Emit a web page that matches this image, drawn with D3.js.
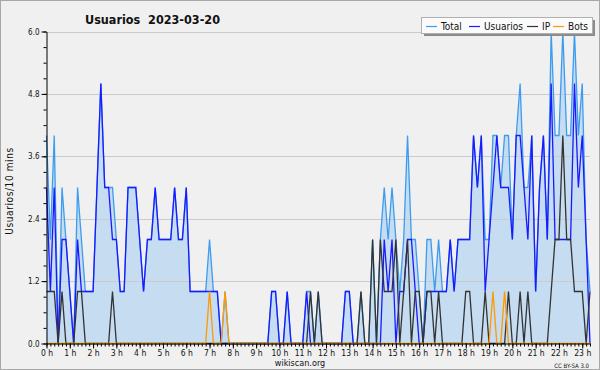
<!DOCTYPE html>
<html>
<head>
<meta charset="utf-8">
<script src="https://cdn.jsdelivr.net/npm/d3@7"></script>
<style>
  body { margin: 0; background: #fff; }
  svg { display: block; }
  text { font-family: "DejaVu Sans Condensed", "DejaVu Sans", sans-serif; fill: #111; }
</style>
</head>
<body>
<div id="chart"></div>
<script>
// one value per 10 minutes, 00:00 .. 23:20
const total = [
  4,2,4,0,3,2,1,0,3,2, 1,1,1,3,5,3,3,3,2,1, 1,3,3,3,2,1,2,2,3,2,
  2,2,2,3,2,2,3,1,1,1, 1,1,2,1,1,0,1,0,0,0, 0,0,0,0,0,0,0,0,1,1,
  0,0,1,0,0,0,0,1,1,0, 1,0,0,0,0,0,0,1,1,0, 0,1,0,0,2,0,2,3,2,3,
  2,1,2,4,2,2,1,0,2,2, 1,2,1,1,2,1,2,2,2,2, 4,3,4,2,2,4,4,3,4,4,
  2,4,5,3,3,4,1,3,4,2, 6,4,4,6,4,4,6,4,5,2, 1
];
const usuarios = [
  3,1,3,0,2,2,1,0,2,1, 1,1,1,3,5,3,3,2,2,1, 1,3,3,3,2,1,2,2,3,2,
  2,2,2,3,2,2,3,1,1,1, 1,1,1,1,1,0,0,0,0,0, 0,0,0,0,0,0,0,0,1,1,
  0,0,1,0,0,0,0,1,0,0, 0,0,0,0,0,0,0,1,1,0, 0,0,0,0,0,0,0,2,1,2,
  0,1,1,2,2,1,0,0,1,1, 1,1,1,1,2,1,2,2,2,2, 4,3,4,1,2,3,4,3,3,3,
  2,4,4,3,2,4,1,3,4,2, 5,2,2,2,2,2,5,3,4,2, 0
];
const ip = [
  1,1,1,0,1,0,0,0,1,1, 0,0,0,0,0,0,0,1,0,0, 0,0,0,0,0,0,0,0,0,0,
  0,0,0,0,0,0,0,0,0,0, 0,0,0,0,0,0,0,0,0,0, 0,0,0,0,0,0,0,0,0,0,
  0,0,0,0,0,0,0,0,1,0, 1,0,0,0,0,0,0,0,0,0, 0,1,0,0,2,0,2,1,1,1,
  2,0,1,2,0,1,1,0,1,1, 0,1,0,0,0,0,0,0,1,1, 0,0,0,1,0,0,0,0,0,1,
  0,0,1,0,1,0,0,0,0,0, 1,2,2,4,2,2,1,1,1,0, 1
];
const bots = [
  0,0,0,0,0,0,0,0,0,0, 0,0,0,0,0,0,0,0,0,0, 0,0,0,0,0,0,0,0,0,0,
  0,0,0,0,0,0,0,0,0,0, 0,0,1,0,0,0,1,0,0,0, 0,0,0,0,0,0,0,0,0,0,
  0,0,0,0,0,0,0,0,0,0, 0,0,0,0,0,0,0,0,0,0, 0,0,0,0,0,0,0,0,0,0,
  0,0,0,0,0,0,0,0,0,0, 0,0,0,0,0,0,0,0,0,0, 0,0,0,0,0,1,0,0,1,0,
  0,0,0,0,0,0,0,0,0,0, 0,0,0,0,0,0,0,0,0,0, 0
];
const hourLabels = ["0 h","1 h","2 h","3 h","4 h","5 h","6 h","7 h","8 h","9 h","10 h","11 h",
  "12 h","13 h","14 h","15 h","16 h","17 h","18 h","19 h","20 h","21 h","22 h","23 h"];
const yTicks = [0, 1.2, 2.4, 3.6, 4.8, 6.0];
const series = [
  { name: "Total", values: total, color: "#3d9cf0" },
  { name: "Usuarios", values: usuarios, color: "#1a1aff" },
  { name: "IP", values: ip, color: "#333333" },
  { name: "Bots", values: bots, color: "#ff9a00" }
];

const W = 600, H = 370;
const svg = d3.select("#chart").append("svg").attr("width", W).attr("height", H);

svg.append("rect").attr("x", 0.5).attr("y", 0.5).attr("width", W - 1).attr("height", H - 1)
  .attr("fill", "#f0f0f0").attr("stroke", "#a8a8a8");

const x = d3.scaleLinear().domain([0, total.length - 1]).range([46.5, 590]);
const y = d3.scaleLinear().domain([0, 6]).range([343.5, 31.5]);

// area under total
svg.append("path").datum(total)
  .attr("fill", "#c5dcf1")
  .attr("d", d3.area().x((d, i) => x(i)).y0(y(0)).y1(d => y(d)));

// grid
svg.append("g").selectAll("line").data(yTicks.slice(1)).join("line")
  .attr("x1", 46.5).attr("x2", 590)
  .attr("y1", d => Math.round(y(d)) + 0.5).attr("y2", d => Math.round(y(d)) + 0.5)
  .attr("stroke", "#cbcbcb");

// lines
const line = d3.line().x((d, i) => x(i)).y(d => y(d));
series.forEach(s => {
  svg.append("path").datum(s.values)
    .attr("fill", "none").attr("stroke", s.color).attr("stroke-width", 1.3)
    .attr("d", line);
});

// y axis
const yMinor = d3.range(0, 6.01, 0.3);
svg.append("g").attr("transform", "translate(46.5,0)")
  .call(d3.axisLeft(y).tickValues(yMinor).tickSize(3).tickSizeOuter(0).tickFormat(""))
  .call(g => g.selectAll("line,path").attr("stroke", "#000"));
svg.append("g").attr("transform", "translate(46.5,0)")
  .call(d3.axisLeft(y).tickValues(yTicks).tickSize(5).tickSizeOuter(0).tickFormat(d3.format(".1f")))
  .call(g => g.select(".domain").remove())
  .call(g => g.selectAll("line").attr("stroke", "#000"))
  .call(g => g.selectAll("text").attr("font-size", 8).attr("dx", 1).style("font-family", null));

// x axis
svg.append("g").attr("transform", "translate(0,343.5)")
  .call(d3.axisBottom(x).tickValues(d3.range(0, total.length)).tickSize(3).tickSizeOuter(0).tickFormat(""))
  .call(g => g.selectAll("line,path").attr("stroke", "#000"));
svg.append("g").attr("transform", "translate(0,343.5)")
  .call(d3.axisBottom(x).tickValues(hourLabels.map((h, k) => k * 6)).tickSize(5).tickSizeOuter(0)
    .tickFormat((d, k) => hourLabels[k]))
  .call(g => g.select(".domain").remove())
  .call(g => g.selectAll("line").attr("stroke", "#000"))
  .call(g => g.selectAll("text").attr("font-size", 8.5).attr("dy", "0.5em").style("font-family", null));

// titles
svg.append("text").attr("x", 85).attr("y", 24)
  .attr("font-size", 12.5).attr("font-weight", "bold").style("white-space", "pre")
  .text("Usuarios  2023-03-20");
svg.append("text").attr("transform", "translate(13,191) rotate(-90)")
  .attr("text-anchor", "middle").attr("font-size", 10).attr("letter-spacing", 0.6)
  .text("Usuarios/10 mins");
svg.append("text").attr("x", 300).attr("y", 366).attr("text-anchor", "middle")
  .attr("font-size", 9).text("wikiscan.org");
svg.append("text").attr("x", 589).attr("y", 368).attr("text-anchor", "end")
  .attr("font-size", 6).text("CC BY-SA 3.0");

// legend
const lg = svg.append("g");
lg.append("rect").attr("x", 424).attr("y", 20).attr("width", 171).attr("height", 16).attr("fill", "#8c8c8c");
lg.append("rect").attr("x", 421.5).attr("y", 17.5).attr("width", 171).attr("height", 16)
  .attr("fill", "#fbfbfb").attr("stroke", "#b0b0b0");
const legX = [426, 469, 527, 553];
series.forEach((s, k) => {
  lg.append("line").attr("x1", legX[k]).attr("x2", legX[k] + 11).attr("y1", 26.5).attr("y2", 26.5)
    .attr("stroke", s.color).attr("stroke-width", 1.2);
  lg.append("text").attr("x", legX[k] + 15).attr("y", 30).attr("font-size", 10).text(s.name);
});
</script>
</body>
</html>
